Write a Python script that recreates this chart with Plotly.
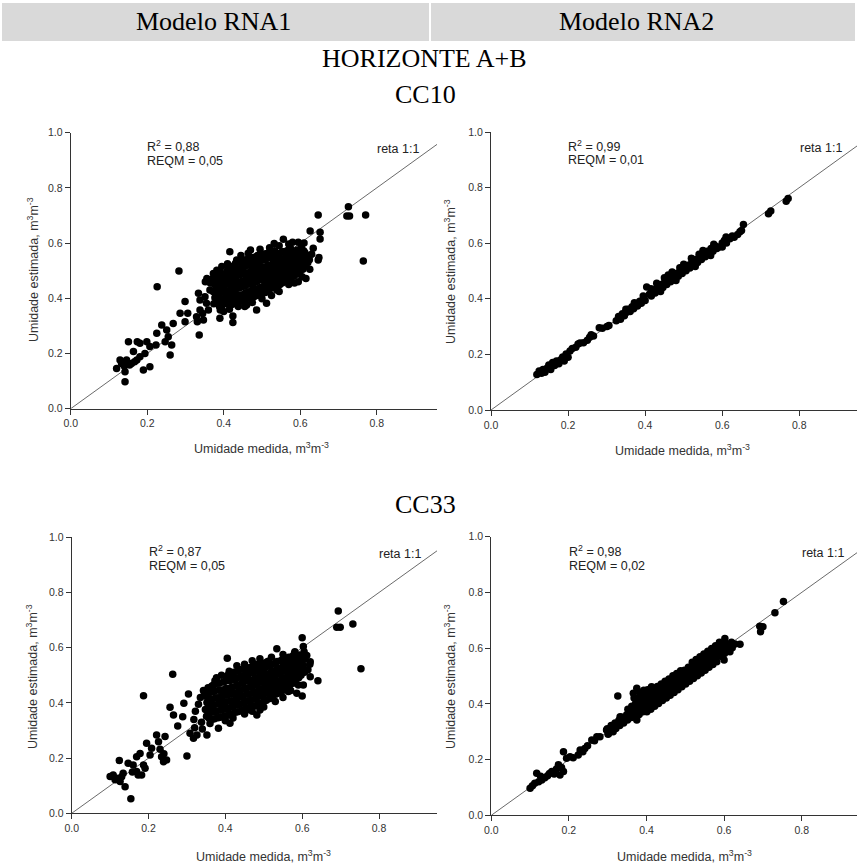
import plotly.graph_objects as go

W, H = 858, 866

# ---------------- data ----------------
ticks_x = [0.0, 0.2, 0.4, 0.6, 0.8]
ticks_y = [0.0, 0.2, 0.4, 0.6, 0.8, 1.0]
reta = [0.0, 1.0]

# Modelo RNA1 - CC10 (medida, estimada)
rna1_cc10 = [
    (0.120, 0.146), (0.142, 0.098), (0.151, 0.243), (0.174, 0.243), (0.199, 0.243),
    (0.226, 0.442), (0.283, 0.499), (0.336, 0.267), (0.416, 0.569), (0.647, 0.702),
    (0.726, 0.732), (0.722, 0.698), (0.729, 0.698), (0.771, 0.702), (0.765, 0.535),
    (0.626, 0.644), (0.652, 0.639), (0.652, 0.615), (0.634, 0.581), (0.647, 0.539),
    (0.649, 0.548), (0.617, 0.551), (0.615, 0.472), (0.595, 0.460), (0.556, 0.614),
    (0.532, 0.599), (0.580, 0.603), (0.464, 0.563), (0.434, 0.539), (0.356, 0.472),
    (0.352, 0.460), (0.299, 0.388), (0.286, 0.346), (0.306, 0.346), (0.424, 0.336),
    (0.424, 0.312), (0.390, 0.328), (0.486, 0.358), (0.512, 0.382), (0.460, 0.376),
    (0.438, 0.370), (0.539, 0.430), (0.565, 0.472), (0.595, 0.490), (0.299, 0.315),
    (0.268, 0.309), (0.238, 0.303), (0.251, 0.285), (0.255, 0.261), (0.247, 0.243),
    (0.264, 0.231), (0.260, 0.195), (0.225, 0.273), (0.223, 0.231), (0.207, 0.225),
    (0.194, 0.200), (0.181, 0.188), (0.190, 0.140), (0.207, 0.152), (0.164, 0.207),
    (0.173, 0.176), (0.159, 0.164), (0.146, 0.176), (0.133, 0.164), (0.142, 0.134),
    (0.129, 0.176), (0.181, 0.237), (0.154, 0.158), (0.167, 0.170), (0.140, 0.155),
    (0.338, 0.358), (0.329, 0.333), (0.347, 0.321), (0.331, 0.315), (0.338, 0.394),
    (0.351, 0.406), (0.334, 0.418), (0.360, 0.358), (0.364, 0.430), (0.373, 0.490),
    (0.382, 0.502), (0.390, 0.430), (0.391, 0.358), (0.345, 0.345), (0.355, 0.382),
    # dense core
    (0.374, 0.380), (0.377, 0.402), (0.372, 0.425), (0.376, 0.451), (0.378, 0.474),
    (0.389, 0.370), (0.392, 0.391), (0.388, 0.415), (0.391, 0.441), (0.393, 0.462),
    (0.387, 0.486), (0.404, 0.382), (0.407, 0.404), (0.402, 0.431), (0.406, 0.455),
    (0.403, 0.476), (0.409, 0.497), (0.419, 0.376), (0.422, 0.396), (0.418, 0.421),
    (0.421, 0.442), (0.424, 0.466), (0.417, 0.489), (0.423, 0.514), (0.434, 0.386),
    (0.437, 0.411), (0.432, 0.434), (0.436, 0.456), (0.433, 0.481), (0.438, 0.502),
    (0.431, 0.527), (0.449, 0.391), (0.452, 0.414), (0.447, 0.441), (0.451, 0.464),
    (0.454, 0.489), (0.448, 0.511), (0.452, 0.534), (0.464, 0.401), (0.467, 0.424),
    (0.462, 0.451), (0.466, 0.471), (0.468, 0.494), (0.463, 0.521), (0.466, 0.544),
    (0.479, 0.406), (0.482, 0.431), (0.477, 0.454), (0.481, 0.479), (0.483, 0.504),
    (0.478, 0.526), (0.480, 0.549), (0.494, 0.416), (0.497, 0.439), (0.492, 0.466),
    (0.496, 0.489), (0.498, 0.511), (0.493, 0.534), (0.495, 0.559), (0.509, 0.421),
    (0.512, 0.446), (0.507, 0.469), (0.511, 0.494), (0.513, 0.516), (0.508, 0.541),
    (0.510, 0.561), (0.524, 0.436), (0.527, 0.459), (0.522, 0.481), (0.526, 0.501),
    (0.528, 0.524), (0.523, 0.549), (0.525, 0.569), (0.539, 0.446), (0.542, 0.469),
    (0.537, 0.491), (0.541, 0.511), (0.543, 0.534), (0.538, 0.556), (0.554, 0.456),
    (0.557, 0.481), (0.552, 0.499), (0.556, 0.521), (0.558, 0.544), (0.553, 0.569),
    (0.569, 0.471), (0.572, 0.489), (0.567, 0.511), (0.571, 0.531), (0.573, 0.551),
    (0.568, 0.574), (0.584, 0.481), (0.587, 0.501), (0.582, 0.524), (0.586, 0.546),
    (0.588, 0.569), (0.599, 0.496), (0.602, 0.514), (0.597, 0.536), (0.601, 0.559),
    (0.603, 0.584), (0.614, 0.519), (0.617, 0.546), (0.612, 0.566), (0.624, 0.540),
    # core, in-between points
    (0.382, 0.390), (0.384, 0.413), (0.381, 0.438), (0.383, 0.462), (0.380, 0.488),
    (0.397, 0.376), (0.398, 0.398), (0.396, 0.423), (0.399, 0.448), (0.397, 0.470),
    (0.395, 0.490), (0.412, 0.380), (0.413, 0.400), (0.411, 0.425), (0.414, 0.450),
    (0.412, 0.470), (0.410, 0.495), (0.413, 0.510), (0.427, 0.380), (0.428, 0.403),
    (0.426, 0.428), (0.429, 0.450), (0.427, 0.472), (0.425, 0.495), (0.428, 0.520),
    (0.442, 0.388), (0.443, 0.412), (0.441, 0.438), (0.444, 0.460), (0.442, 0.485),
    (0.440, 0.506), (0.443, 0.530), (0.457, 0.395), (0.458, 0.420), (0.456, 0.445),
    (0.459, 0.468), (0.457, 0.492), (0.455, 0.515), (0.458, 0.540), (0.472, 0.403),
    (0.473, 0.428), (0.471, 0.452), (0.474, 0.475), (0.472, 0.500), (0.470, 0.522),
    (0.473, 0.547), (0.487, 0.410), (0.488, 0.435), (0.486, 0.460), (0.489, 0.485),
    (0.487, 0.508), (0.485, 0.530), (0.488, 0.555), (0.502, 0.418), (0.503, 0.443),
    (0.501, 0.468), (0.504, 0.492), (0.502, 0.513), (0.500, 0.538), (0.503, 0.560),
    (0.517, 0.428), (0.518, 0.452), (0.516, 0.475), (0.519, 0.498), (0.517, 0.520),
    (0.515, 0.545), (0.518, 0.565), (0.532, 0.440), (0.533, 0.465), (0.531, 0.485),
    (0.534, 0.505), (0.532, 0.530), (0.530, 0.552), (0.533, 0.572), (0.547, 0.450),
    (0.548, 0.475), (0.546, 0.495), (0.549, 0.515), (0.547, 0.540), (0.545, 0.562),
    (0.562, 0.462), (0.563, 0.485), (0.561, 0.505), (0.564, 0.525), (0.562, 0.548),
    (0.560, 0.570), (0.577, 0.475), (0.578, 0.495), (0.576, 0.518), (0.579, 0.538),
    (0.577, 0.560), (0.575, 0.580), (0.592, 0.488), (0.593, 0.508), (0.591, 0.530),
    (0.594, 0.552), (0.592, 0.575), (0.607, 0.505), (0.608, 0.525), (0.606, 0.548),
    (0.609, 0.572), (0.620, 0.530), (0.621, 0.555),
    # ragged edges of the core
    (0.445, 0.555), (0.470, 0.575), (0.495, 0.578), (0.520, 0.583), (0.545, 0.590),
    (0.570, 0.597), (0.595, 0.603), (0.610, 0.600), (0.455, 0.370), (0.475, 0.385),
    (0.500, 0.398), (0.525, 0.410), (0.545, 0.425), (0.570, 0.450), (0.585, 0.455),
    (0.400, 0.352), (0.415, 0.360), (0.365, 0.455), (0.370, 0.470), (0.395, 0.515),
    (0.410, 0.525), (0.630, 0.560), (0.625, 0.505), (0.605, 0.478),
]

# Modelo RNA2 - CC10
rna2_cc10 = [
    (0.119, 0.128), (0.125, 0.140), (0.131, 0.132), (0.135, 0.146), (0.140, 0.136),
    (0.146, 0.151), (0.150, 0.162), (0.155, 0.146), (0.160, 0.171), (0.165, 0.160),
    (0.170, 0.176), (0.176, 0.166), (0.181, 0.181), (0.186, 0.191), (0.190, 0.176),
    (0.195, 0.201), (0.200, 0.190), (0.205, 0.212), (0.211, 0.221), (0.220, 0.226),
    (0.226, 0.237), (0.231, 0.241), (0.240, 0.242), (0.250, 0.251), (0.256, 0.262),
    (0.260, 0.271), (0.266, 0.266), (0.281, 0.296), (0.289, 0.294), (0.301, 0.300),
    (0.306, 0.304), (0.325, 0.321), (0.331, 0.336), (0.336, 0.326), (0.341, 0.346),
    (0.346, 0.339), (0.351, 0.351), (0.356, 0.362), (0.361, 0.354), (0.366, 0.371),
    (0.370, 0.364), (0.376, 0.381), (0.380, 0.374), (0.386, 0.391), (0.390, 0.384),
    (0.396, 0.401), (0.400, 0.394), (0.404, 0.442), (0.411, 0.416), (0.416, 0.410),
    (0.421, 0.431), (0.426, 0.421), (0.431, 0.441), (0.436, 0.431), (0.441, 0.451),
    (0.446, 0.441), (0.451, 0.461), (0.456, 0.451), (0.461, 0.471), (0.466, 0.461),
    (0.471, 0.481), (0.476, 0.471), (0.481, 0.491), (0.486, 0.481), (0.491, 0.501),
    (0.496, 0.491), (0.501, 0.511), (0.506, 0.501), (0.511, 0.521), (0.516, 0.511),
    (0.521, 0.531), (0.526, 0.521), (0.531, 0.541), (0.536, 0.531), (0.541, 0.551),
    (0.546, 0.541), (0.551, 0.561), (0.556, 0.551), (0.561, 0.571), (0.566, 0.561),
    (0.571, 0.581), (0.576, 0.571), (0.581, 0.591), (0.586, 0.581), (0.591, 0.586),
    (0.600, 0.601), (0.606, 0.611), (0.611, 0.601), (0.620, 0.616), (0.626, 0.626),
    (0.631, 0.621), (0.640, 0.631), (0.646, 0.641), (0.650, 0.646), (0.655, 0.667),
    (0.430, 0.456), (0.450, 0.476), (0.470, 0.496), (0.500, 0.524), (0.520, 0.546),
    (0.550, 0.574), (0.440, 0.426), (0.480, 0.466), (0.530, 0.516), (0.570, 0.556),
    (0.600, 0.586), (0.415, 0.436), (0.395, 0.410), (0.372, 0.386), (0.350, 0.362),
    (0.578, 0.596), (0.610, 0.622), (0.540, 0.560), (0.460, 0.486), (0.490, 0.512),
    (0.720, 0.706), (0.726, 0.716), (0.766, 0.751), (0.771, 0.761),
]

# Modelo RNA1 - CC33
rna1_cc33 = [
    (0.694, 0.733), (0.690, 0.674), (0.699, 0.674), (0.732, 0.686), (0.753, 0.524),
    (0.641, 0.480), (0.600, 0.636), (0.534, 0.596), (0.600, 0.425), (0.263, 0.504),
    (0.187, 0.426), (0.300, 0.208), (0.154, 0.053), (0.405, 0.562), (0.470, 0.553),
    (0.352, 0.284), (0.256, 0.384), (0.265, 0.356), (0.276, 0.316), (0.292, 0.399),
    (0.289, 0.350), (0.304, 0.432), (0.308, 0.290), (0.317, 0.272), (0.326, 0.284),
    (0.621, 0.495), (0.603, 0.465), (0.586, 0.435), (0.564, 0.441), (0.538, 0.465),
    (0.490, 0.374), (0.482, 0.356), (0.456, 0.374), (0.412, 0.326), (0.382, 0.308),
    (0.621, 0.549), (0.581, 0.585), (0.603, 0.604), (0.612, 0.572), (0.108, 0.139),
    (0.100, 0.133), (0.117, 0.127), (0.126, 0.115), (0.134, 0.145), (0.139, 0.096),
    (0.147, 0.181), (0.160, 0.175), (0.169, 0.151), (0.182, 0.139), (0.191, 0.163),
    (0.124, 0.191), (0.169, 0.205), (0.178, 0.217), (0.195, 0.254), (0.221, 0.284),
    (0.226, 0.259), (0.234, 0.205), (0.239, 0.187), (0.247, 0.193), (0.243, 0.278),
    (0.208, 0.236), (0.204, 0.211), (0.173, 0.139), (0.130, 0.132), (0.113, 0.122),
    (0.158, 0.150), (0.187, 0.175), (0.230, 0.232), (0.240, 0.216), (0.318, 0.340),
    (0.322, 0.370), (0.330, 0.395), (0.338, 0.330), (0.335, 0.420), (0.343, 0.445),
    (0.320, 0.310), (0.340, 0.305),
    # dense core
    (0.351, 0.352), (0.348, 0.376), (0.352, 0.401), (0.349, 0.424), (0.366, 0.341),
    (0.363, 0.366), (0.367, 0.391), (0.364, 0.414), (0.368, 0.441), (0.365, 0.461),
    (0.381, 0.346), (0.378, 0.371), (0.382, 0.396), (0.379, 0.419), (0.383, 0.446),
    (0.380, 0.471), (0.377, 0.491), (0.396, 0.351), (0.393, 0.376), (0.397, 0.401),
    (0.394, 0.426), (0.398, 0.449), (0.395, 0.476), (0.411, 0.356), (0.408, 0.381),
    (0.412, 0.406), (0.409, 0.431), (0.413, 0.454), (0.410, 0.481), (0.407, 0.501),
    (0.426, 0.366), (0.423, 0.391), (0.427, 0.411), (0.424, 0.436), (0.428, 0.461),
    (0.425, 0.484), (0.422, 0.511), (0.441, 0.371), (0.438, 0.396), (0.442, 0.421),
    (0.439, 0.444), (0.443, 0.471), (0.440, 0.494), (0.437, 0.521), (0.456, 0.381),
    (0.453, 0.406), (0.457, 0.431), (0.454, 0.454), (0.458, 0.481), (0.455, 0.501),
    (0.452, 0.524), (0.471, 0.386), (0.468, 0.411), (0.472, 0.436), (0.469, 0.461),
    (0.473, 0.484), (0.470, 0.511), (0.467, 0.529), (0.486, 0.396), (0.483, 0.421),
    (0.487, 0.444), (0.484, 0.471), (0.488, 0.494), (0.485, 0.516), (0.482, 0.539),
    (0.501, 0.406), (0.498, 0.431), (0.502, 0.454), (0.499, 0.481), (0.503, 0.501),
    (0.500, 0.524), (0.497, 0.544), (0.516, 0.416), (0.513, 0.441), (0.517, 0.464),
    (0.514, 0.491), (0.518, 0.511), (0.515, 0.534), (0.512, 0.551), (0.531, 0.431),
    (0.528, 0.451), (0.532, 0.476), (0.529, 0.499), (0.533, 0.521), (0.530, 0.544),
    (0.546, 0.441), (0.543, 0.461), (0.547, 0.484), (0.544, 0.511), (0.548, 0.529),
    (0.545, 0.554), (0.561, 0.456), (0.558, 0.476), (0.562, 0.494), (0.559, 0.521),
    (0.563, 0.539), (0.560, 0.561), (0.576, 0.471), (0.573, 0.491), (0.577, 0.511),
    (0.574, 0.529), (0.578, 0.551), (0.575, 0.569), (0.591, 0.491), (0.588, 0.511),
    (0.592, 0.531), (0.589, 0.554), (0.593, 0.574), (0.606, 0.511), (0.603, 0.536),
    (0.607, 0.559),
    # core, in-between points
    (0.357, 0.345), (0.358, 0.363), (0.356, 0.388), (0.359, 0.412), (0.357, 0.435),
    (0.372, 0.343), (0.373, 0.368), (0.371, 0.393), (0.374, 0.418), (0.372, 0.443),
    (0.370, 0.466), (0.373, 0.480), (0.387, 0.348), (0.388, 0.373), (0.386, 0.398),
    (0.389, 0.422), (0.387, 0.447), (0.385, 0.472), (0.402, 0.353), (0.403, 0.378),
    (0.401, 0.403), (0.404, 0.428), (0.402, 0.452), (0.400, 0.478), (0.403, 0.495),
    (0.417, 0.360), (0.418, 0.385), (0.416, 0.408), (0.419, 0.433), (0.417, 0.457),
    (0.415, 0.482), (0.418, 0.505), (0.432, 0.368), (0.433, 0.393), (0.431, 0.416),
    (0.434, 0.440), (0.432, 0.465), (0.430, 0.490), (0.433, 0.515), (0.447, 0.375),
    (0.448, 0.400), (0.446, 0.425), (0.449, 0.450), (0.447, 0.475), (0.445, 0.498),
    (0.448, 0.522), (0.462, 0.383), (0.463, 0.408), (0.461, 0.433), (0.464, 0.458),
    (0.462, 0.483), (0.460, 0.505), (0.463, 0.527), (0.477, 0.390), (0.478, 0.415),
    (0.476, 0.440), (0.479, 0.465), (0.477, 0.490), (0.475, 0.513), (0.478, 0.535),
    (0.492, 0.400), (0.493, 0.425), (0.491, 0.450), (0.494, 0.475), (0.492, 0.498),
    (0.490, 0.520), (0.493, 0.542), (0.507, 0.410), (0.508, 0.435), (0.506, 0.460),
    (0.509, 0.485), (0.507, 0.505), (0.505, 0.530), (0.508, 0.548), (0.522, 0.423),
    (0.523, 0.445), (0.521, 0.470), (0.524, 0.495), (0.522, 0.515), (0.520, 0.540),
    (0.537, 0.435), (0.538, 0.455), (0.536, 0.480), (0.539, 0.505), (0.537, 0.525),
    (0.535, 0.550), (0.552, 0.448), (0.553, 0.468), (0.551, 0.490), (0.554, 0.515),
    (0.552, 0.535), (0.550, 0.557), (0.567, 0.463), (0.568, 0.483), (0.566, 0.503),
    (0.569, 0.525), (0.567, 0.545), (0.565, 0.565), (0.582, 0.480), (0.583, 0.500),
    (0.581, 0.520), (0.584, 0.542), (0.582, 0.563), (0.597, 0.500), (0.598, 0.520),
    (0.596, 0.543), (0.599, 0.565),
    # ragged edges of the core
    (0.390, 0.500), (0.410, 0.515), (0.430, 0.535), (0.450, 0.540), (0.490, 0.560),
    (0.520, 0.565), (0.550, 0.575), (0.580, 0.580), (0.605, 0.585), (0.615, 0.520),
    (0.620, 0.540), (0.450, 0.360), (0.470, 0.370), (0.500, 0.385), (0.530, 0.405),
    (0.550, 0.420), (0.570, 0.445), (0.590, 0.465), (0.400, 0.335), (0.420, 0.345),
    (0.360, 0.325), (0.345, 0.440), (0.355, 0.455),
]

# Modelo RNA2 - CC33
rna2_cc33 = [
    (0.100, 0.097), (0.106, 0.106), (0.112, 0.115), (0.117, 0.151), (0.122, 0.120),
    (0.130, 0.127), (0.127, 0.140), (0.138, 0.135), (0.145, 0.142), (0.150, 0.150),
    (0.156, 0.157), (0.162, 0.148), (0.168, 0.166), (0.177, 0.145), (0.186, 0.157),
    (0.173, 0.181), (0.181, 0.172), (0.186, 0.228), (0.194, 0.205), (0.203, 0.210),
    (0.211, 0.207), (0.224, 0.216), (0.229, 0.234), (0.236, 0.228), (0.241, 0.240),
    (0.248, 0.250), (0.259, 0.270), (0.266, 0.268), (0.272, 0.282), (0.280, 0.282),
    (0.297, 0.306), (0.302, 0.294), (0.314, 0.300), (0.326, 0.428), (0.375, 0.456),
    (0.366, 0.438), (0.692, 0.679), (0.694, 0.659), (0.700, 0.677), (0.731, 0.727),
    (0.753, 0.767), (0.641, 0.614), (0.600, 0.557), (0.615, 0.587), (0.602, 0.635),
    (0.375, 0.342), (0.332, 0.354),
    (0.301, 0.291), (0.299, 0.311), (0.311, 0.302), (0.309, 0.322), (0.321, 0.312),
    (0.319, 0.331), (0.331, 0.322), (0.329, 0.341), (0.336, 0.352), (0.341, 0.331),
    (0.339, 0.351), (0.351, 0.342), (0.349, 0.361), (0.352, 0.381), (0.361, 0.351),
    (0.359, 0.372), (0.362, 0.391), (0.371, 0.362), (0.369, 0.381), (0.372, 0.401),
    (0.368, 0.421), (0.381, 0.362), (0.379, 0.382), (0.382, 0.402), (0.378, 0.421),
    (0.383, 0.441), (0.391, 0.372), (0.389, 0.391), (0.392, 0.412), (0.388, 0.431),
    (0.393, 0.449), (0.401, 0.372), (0.399, 0.392), (0.402, 0.411), (0.398, 0.432),
    (0.403, 0.451), (0.411, 0.381), (0.409, 0.401), (0.412, 0.421), (0.408, 0.441),
    (0.413, 0.461), (0.421, 0.391), (0.419, 0.412), (0.422, 0.431), (0.418, 0.451),
    (0.431, 0.401), (0.429, 0.421), (0.432, 0.441), (0.428, 0.462), (0.441, 0.412),
    (0.439, 0.431), (0.442, 0.451), (0.438, 0.471), (0.451, 0.421), (0.449, 0.441),
    (0.452, 0.461), (0.448, 0.481), (0.461, 0.431), (0.459, 0.451), (0.462, 0.471),
    (0.458, 0.489), (0.471, 0.441), (0.469, 0.461), (0.472, 0.481), (0.468, 0.501),
    (0.481, 0.451), (0.479, 0.471), (0.482, 0.491), (0.478, 0.509), (0.491, 0.461),
    (0.489, 0.481), (0.492, 0.501), (0.488, 0.519), (0.501, 0.471), (0.499, 0.491),
    (0.502, 0.511), (0.498, 0.521), (0.511, 0.481), (0.509, 0.501), (0.512, 0.519),
    (0.508, 0.531), (0.521, 0.491), (0.519, 0.511), (0.522, 0.531), (0.518, 0.549),
    (0.531, 0.501), (0.529, 0.521), (0.532, 0.541), (0.528, 0.559), (0.541, 0.511),
    (0.539, 0.531), (0.542, 0.551), (0.538, 0.569), (0.551, 0.521), (0.549, 0.541),
    (0.552, 0.561), (0.548, 0.579), (0.561, 0.531), (0.559, 0.551), (0.562, 0.571),
    (0.558, 0.589), (0.571, 0.541), (0.569, 0.561), (0.572, 0.581), (0.568, 0.599),
    (0.581, 0.551), (0.579, 0.571), (0.582, 0.591), (0.578, 0.609), (0.591, 0.571),
    (0.589, 0.591), (0.592, 0.609), (0.588, 0.621), (0.601, 0.581), (0.599, 0.601),
    (0.602, 0.619), (0.611, 0.591), (0.609, 0.611), (0.621, 0.601), (0.619, 0.621),
    (0.628, 0.615),
]

panels = [
    dict(data=rna1_cc10, r2="0,88", reqm="0,05"),
    dict(data=rna2_cc10, r2="0,99", reqm="0,01"),
    dict(data=rna1_cc33, r2="0,87", reqm="0,05"),
    dict(data=rna2_cc33, r2="0,98", reqm="0,02"),
]

# ---------------- layout geometry (pixels) ----------------
# (x_axis_left_px, x_at_0.8_px, right_end_px, y_top_px(1.0), y_bottom_px(0.0))
geom = [
    (70.7, 376.7, 437.0, 132.7, 408.7),
    (491.0, 799.3, 857.0, 132.0, 410.0),
    (71.7, 379.0, 437.0, 537.3, 813.3),
    (491.3, 801.7, 857.0, 536.7, 815.3),
]
# text positions: (xtitle_cx, xtitle_cy, ytitle_cx, ytitle_cy, ann_left, ann_y1, ann_y2, reta_right, reta_y)
tpos = [
    (261, 448, 33, 270, 145, 146, 161, 421, 149),
    (682, 450, 450, 272, 566, 146, 160, 844, 148),
    (263, 856, 32, 677, 147, 551, 566, 423, 554),
    (684, 856, 450, 677, 567, 551, 566, 846, 553),
]


def px(x):
    return x / W


def py(y):
    return 1 - y / H


fig = go.Figure()
layout = dict(
    width=W, height=H,
    margin=dict(l=0, r=0, t=0, b=0, autoexpand=False),
    paper_bgcolor="white", plot_bgcolor="white",
    showlegend=False,
)
annotations = []
shapes = []

sans = "Arial, Liberation Sans, sans-serif"
serif = "Times New Roman, Liberation Serif, serif"
axcol = "#333333"

for i, (p, g, t) in enumerate(zip(panels, geom, tpos)):
    n = i + 1
    xa = "x" if n == 1 else f"x{n}"
    ya = "y" if n == 1 else f"y{n}"
    x0, x08, xr, yt, yb = g
    scale = (x08 - x0) / 0.8
    xmax = (xr - x0) / scale
    layout[f"xaxis{'' if n == 1 else n}"] = dict(
        domain=[px(x0), px(xr)], range=[0, xmax], anchor=ya,
        showline=True, linecolor=axcol, linewidth=1, mirror=False,
        ticks="outside", ticklen=5, tickcolor=axcol, tickwidth=1,
        tickvals=ticks_x, ticktext=[f"{v:.1f}" for v in ticks_x],
        tickfont=dict(family=sans, size=10.5, color=axcol),
        showgrid=False, zeroline=False, fixedrange=True, automargin=False,
    )
    layout[f"yaxis{'' if n == 1 else n}"] = dict(
        domain=[py(yb), py(yt)], range=[0, 1.0], anchor=xa,
        showline=True, linecolor=axcol, linewidth=1,
        ticks="outside", ticklen=5, tickcolor=axcol, tickwidth=1,
        tickvals=ticks_y, ticktext=[f"{v:.1f}" for v in ticks_y],
        tickfont=dict(family=sans, size=10.5, color=axcol),
        showgrid=False, zeroline=False, fixedrange=True, automargin=False,
    )
    xs = [a for a, b in p["data"]]
    ys = [b for a, b in p["data"]]
    fig.add_trace(go.Scatter(
        x=reta, y=reta, mode="lines", xaxis=xa, yaxis=ya,
        line=dict(color="#444444", width=0.8), hoverinfo="skip",
    ))
    fig.add_trace(go.Scatter(
        x=xs, y=ys, mode="markers", xaxis=xa, yaxis=ya,
        marker=dict(color="black", size=7.5, line=dict(width=0)),
    ))
    xtc, xty, ytc, yty, al, a1, a2, rr, ry = t
    annotations += [
        dict(text="Umidade medida, m<sup>3</sup>m<sup>-3</sup>", x=px(xtc), y=py(xty),
             xref="paper", yref="paper", showarrow=False, xanchor="center", yanchor="middle",
             font=dict(family=sans, size=12.5, color=axcol)),
        dict(text="Umidade estimada, m<sup>3</sup>m<sup>-3</sup>", x=px(ytc), y=py(yty),
             xref="paper", yref="paper", showarrow=False, xanchor="center", yanchor="middle",
             textangle=-90, font=dict(family=sans, size=12.5, color=axcol)),
        dict(text=f"R<sup>2</sup> = {p['r2']}", x=px(al), y=py(a1),
             xref="paper", yref="paper", showarrow=False, xanchor="left", yanchor="middle",
             font=dict(family=sans, size=12.5, color="#222222")),
        dict(text=f"REQM = {p['reqm']}", x=px(al), y=py(a2),
             xref="paper", yref="paper", showarrow=False, xanchor="left", yanchor="middle",
             font=dict(family=sans, size=12.5, color="#222222")),
        dict(text="reta 1:1", x=px(rr), y=py(ry),
             xref="paper", yref="paper", showarrow=False, xanchor="right", yanchor="middle",
             font=dict(family=sans, size=12.5, color="#222222")),
    ]

# header band
shapes += [
    dict(type="rect", xref="paper", yref="paper", x0=px(2), x1=px(429), y0=py(41), y1=py(3),
         fillcolor="#d9d9d9", line=dict(width=0), layer="below"),
    dict(type="rect", xref="paper", yref="paper", x0=px(431), x1=px(855), y0=py(41), y1=py(3),
         fillcolor="#d9d9d9", line=dict(width=0), layer="below"),
]
for txt, cx, cy in [("Modelo RNA1", 213, 21), ("Modelo RNA2", 636, 21),
                    ("HORIZONTE A+B", 424, 58), ("CC10", 425, 95), ("CC33", 425, 504)]:
    annotations.append(dict(text=txt, x=px(cx), y=py(cy), xref="paper", yref="paper",
                            showarrow=False, xanchor="center", yanchor="middle",
                            font=dict(family=serif, size=26, color="black")))

layout["annotations"] = annotations
layout["shapes"] = shapes
fig.update_layout(**layout)
fig.write_html(
    "out.html",
    post_script="document.body.style.margin='0';document.body.style.padding='0';"
                "document.body.style.overflow='hidden';",
)
